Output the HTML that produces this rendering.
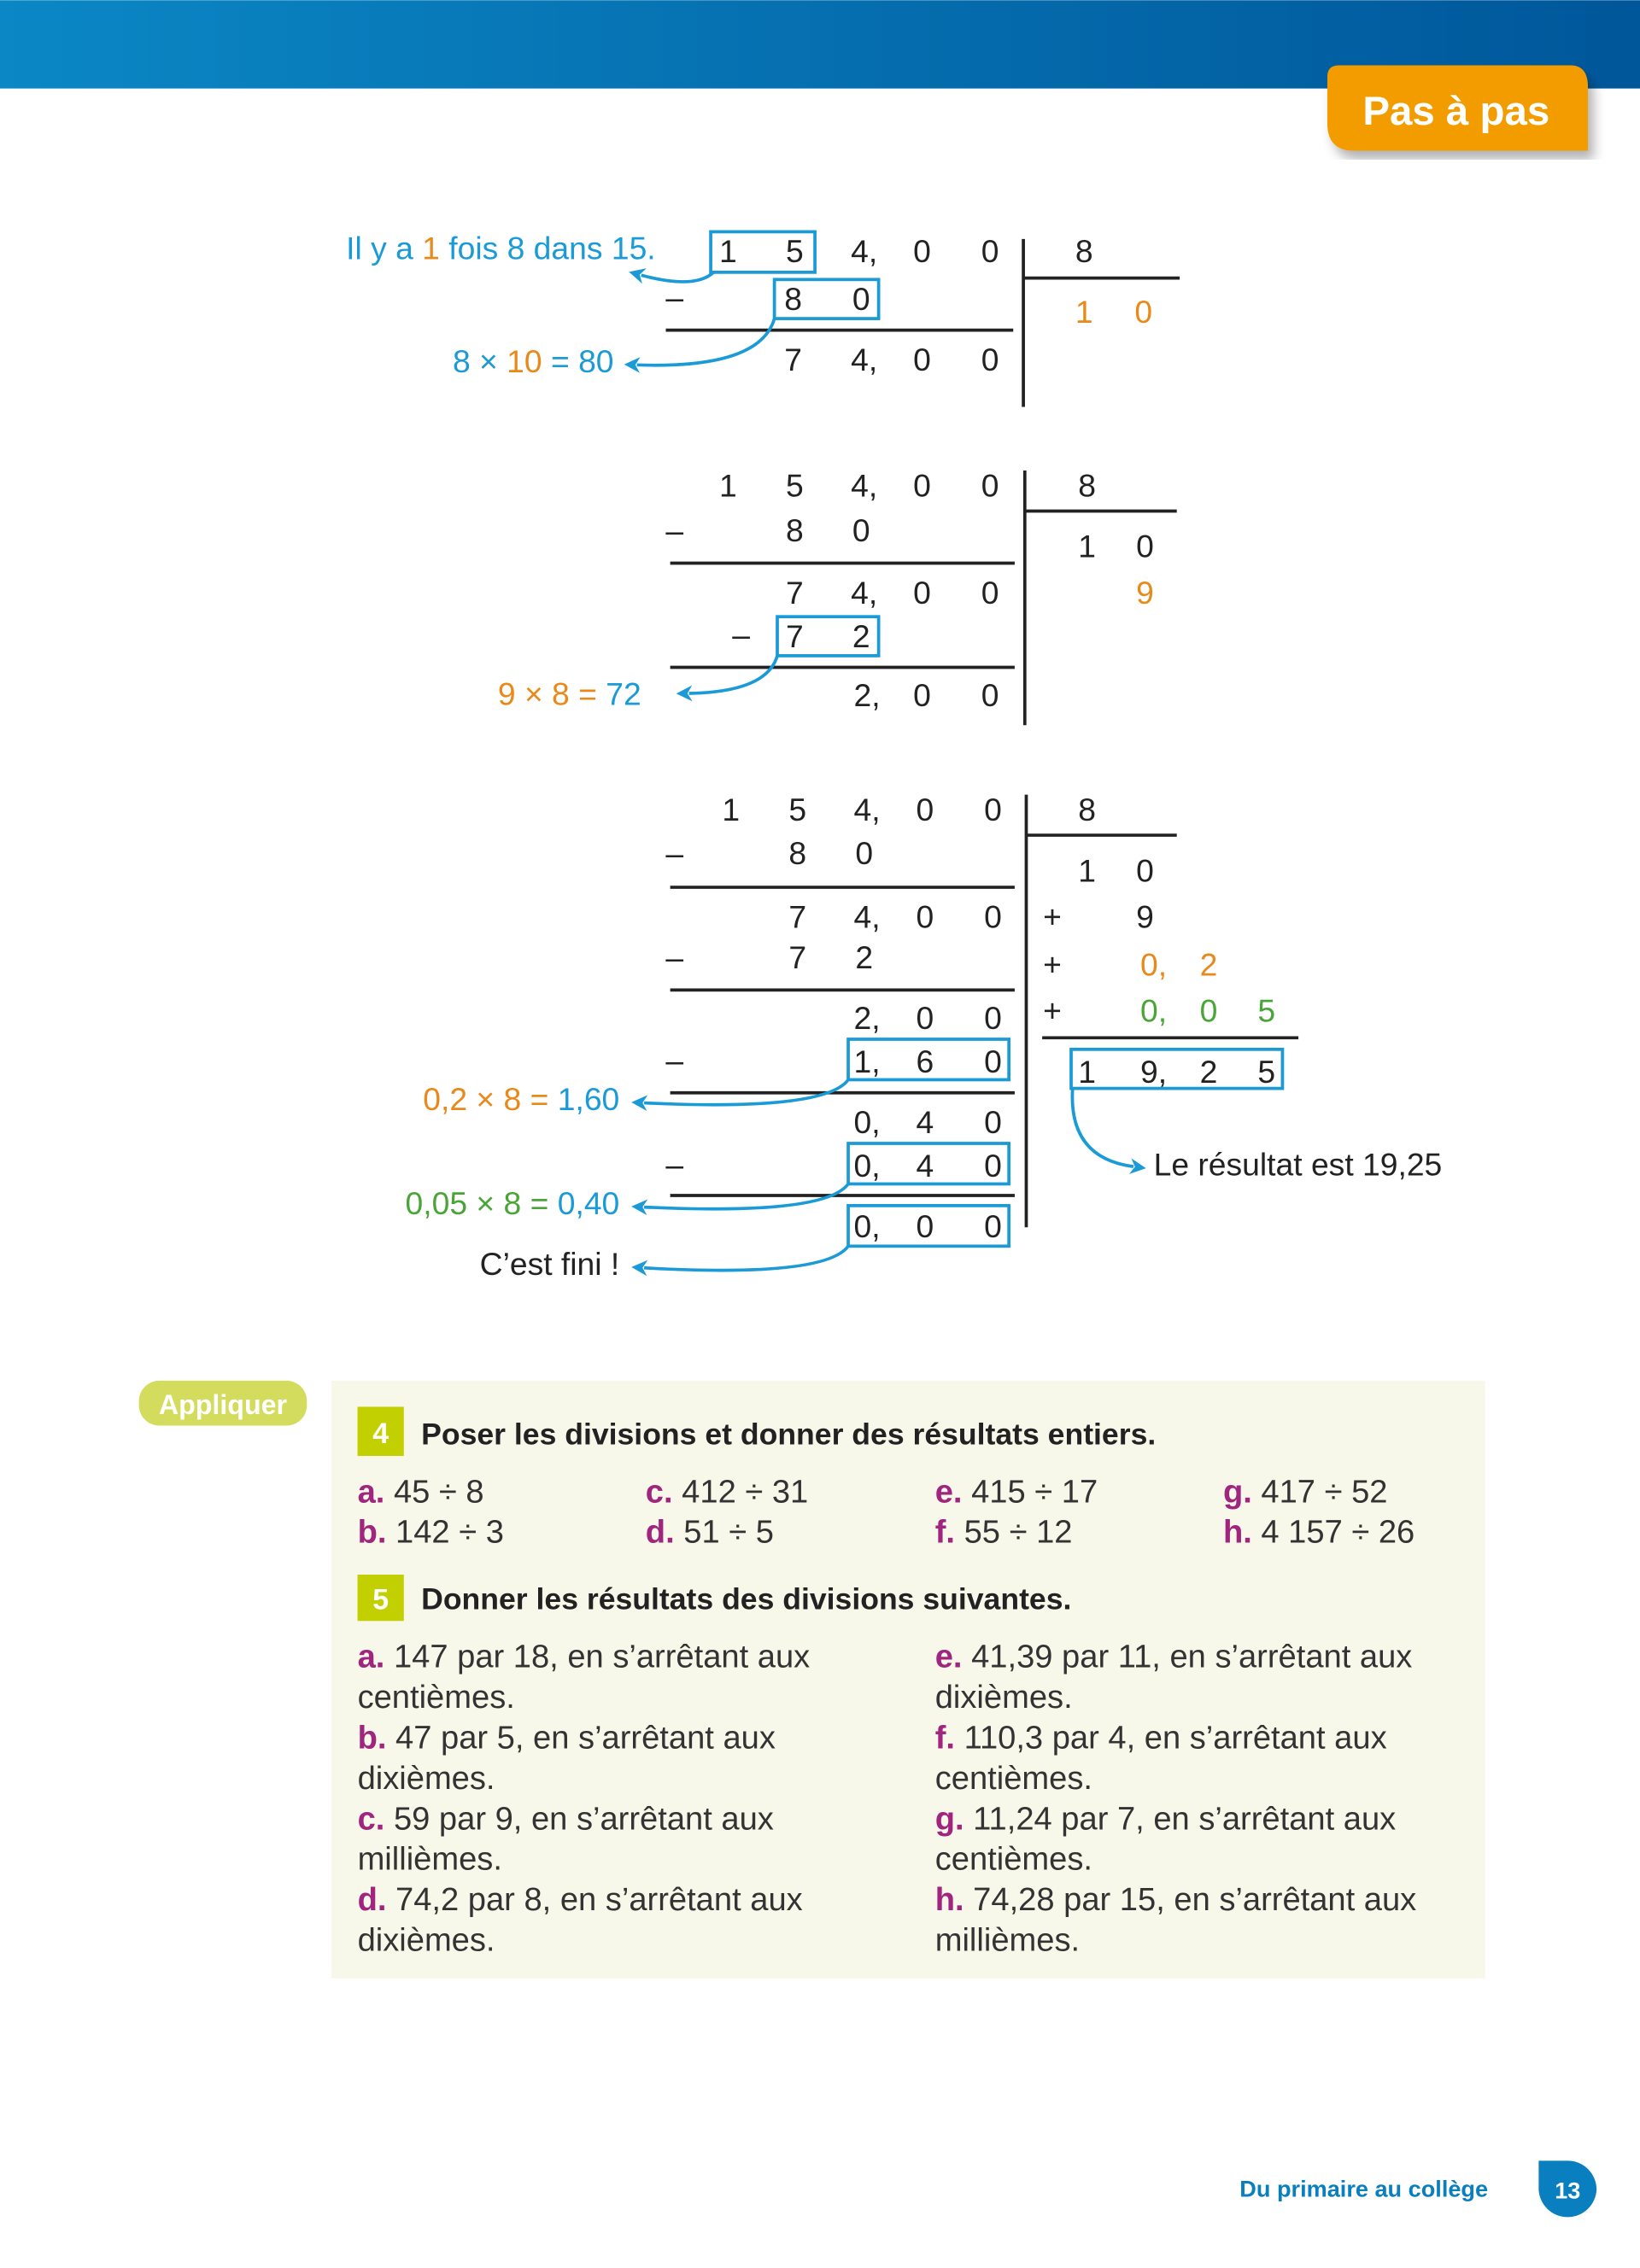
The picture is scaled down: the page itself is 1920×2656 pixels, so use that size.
<!DOCTYPE html>
<html><head><meta charset="utf-8"><style>
html,body{margin:0;padding:0;background:#fff}
svg{display:block}
text{font-family:"Liberation Sans Narrow","Liberation Sans",sans-serif}
.d{font-size:22px;fill:#222;text-anchor:middle}
.o{fill:#e8891a}.g{fill:#4aa538}.b{fill:#1a9ad6}
.lab{font-size:22px;text-anchor:end}
.bx{fill:none;stroke:#1a9ad6;stroke-width:2.2}
.ln{stroke:#222;stroke-width:2.2}
.ar{fill:none;stroke:#1a9ad6;stroke-width:2.2}
.it{font-size:22.5px;fill:#333}
.p{fill:#a0257f;font-weight:bold}
</style></head><body>
<svg width="1920" height="2656" viewBox="0 0 1133 1567" xmlns="http://www.w3.org/2000/svg">
<defs>
<linearGradient id="hg" x1="0" x2="1"><stop offset="0" stop-color="#0b87c5"/><stop offset="1" stop-color="#00579a"/></linearGradient>
<marker id="ah" viewBox="0 0 10 10" refX="2" refY="5" markerWidth="5" markerHeight="5" orient="auto-start-reverse"><path d="M0,0 L10,5 L0,10 L3,5z" fill="#1a9ad6"/></marker>
<filter id="sh"><feDropShadow dx="4" dy="6" stdDeviation="4" flood-opacity="0.3"/></filter>
</defs>
<rect x="0" y="0" width="1133" height="61" fill="url(#hg)"/>
<path d="M925,45 H1085 Q1097,45 1097,60 V104 H935 Q917,104 917,85 V53 Q917,45 925,45z" fill="#f39c00" filter="url(#sh)"/>
<text x="1006" y="86" style="font-size:28px;font-weight:bold;fill:#fff;text-anchor:middle">Pas à pas</text>

<g>
<text class="d" x="503" y="181">1</text><text class="d" x="549" y="181">5</text><text class="d" x="597" y="181">4,</text><text class="d" x="637" y="181">0</text><text class="d" x="684" y="181">0</text>
<text class="d" x="749" y="181">8</text>
<line class="ln" x1="707" y1="165" x2="707" y2="281"/><line class="ln" x1="707" y1="192" x2="815" y2="192"/>
<rect class="bx" x="491" y="160" width="72" height="28"/>
<text class="d" x="466" y="213">–</text>
<rect class="bx" x="535" y="193" width="72" height="27"/>
<text class="d" x="548" y="214">8</text><text class="d" x="595" y="214">0</text>
<line class="ln" x1="460" y1="228" x2="700" y2="228"/>
<text class="d" x="548" y="256">7</text><text class="d" x="597" y="256">4,</text><text class="d" x="637" y="256">0</text><text class="d" x="684" y="256">0</text>
<text class="d o" x="749" y="223">1</text><text class="d o" x="790" y="223">0</text>
<text class="lab b" x="453" y="179">Il y a <tspan class="o">1</tspan> fois 8 dans 15.</text>
<path class="ar" d="M493,188 Q480,200 443,190" marker-end="url(#ah)"/>
<text class="lab b" x="424" y="257">8 × <tspan class="o">10</tspan> = 80</text>
<path class="ar" d="M535,220 Q525,255 440,252" marker-end="url(#ah)"/>
</g>

<g>
<text class="d" x="503" y="343">1</text><text class="d" x="549" y="343">5</text><text class="d" x="597" y="343">4,</text><text class="d" x="637" y="343">0</text><text class="d" x="684" y="343">0</text>
<text class="d" x="751" y="343">8</text>
<line class="ln" x1="708" y1="325" x2="708" y2="501"/><line class="ln" x1="708" y1="353" x2="813" y2="353"/>
<text class="d" x="466" y="374">–</text><text class="d" x="549" y="374">8</text><text class="d" x="595" y="374">0</text>
<line class="ln" x1="463" y1="389" x2="701" y2="389"/>
<text class="d" x="751" y="385">1</text><text class="d" x="791" y="385">0</text>
<text class="d" x="549" y="417">7</text><text class="d" x="597" y="417">4,</text><text class="d" x="637" y="417">0</text><text class="d" x="684" y="417">0</text>
<text class="d o" x="791" y="417">9</text>
<text class="d" x="512" y="446">–</text>
<rect class="bx" x="537" y="426" width="70" height="27"/>
<text class="d" x="549" y="447">7</text><text class="d" x="595" y="447">2</text>
<line class="ln" x1="463" y1="461" x2="701" y2="461"/>
<text class="d" x="599" y="488">2,</text><text class="d" x="637" y="488">0</text><text class="d" x="684" y="488">0</text>
<text class="lab o" x="443" y="487">9 × 8 = <tspan class="b">72</tspan></text>
<path class="ar" d="M537,453 Q530,478 476,479" marker-end="url(#ah)"/>
</g>

<g>
<text class="d" x="505" y="567">1</text><text class="d" x="551" y="567">5</text><text class="d" x="599" y="567">4,</text><text class="d" x="639" y="567">0</text><text class="d" x="686" y="567">0</text>
<text class="d" x="751" y="567">8</text>
<line class="ln" x1="709" y1="549" x2="709" y2="848"/><line class="ln" x1="709" y1="577" x2="813" y2="577"/>
<text class="d" x="466" y="597">–</text><text class="d" x="551" y="597">8</text><text class="d" x="597" y="597">0</text>
<line class="ln" x1="463" y1="613" x2="701" y2="613"/>
<text class="d" x="751" y="609">1</text><text class="d" x="791" y="609">0</text>
<text class="d" x="551" y="641">7</text><text class="d" x="599" y="641">4,</text><text class="d" x="639" y="641">0</text><text class="d" x="686" y="641">0</text>
<text class="d" x="727" y="641">+</text><text class="d" x="791" y="641">9</text>
<text class="d" x="466" y="669">–</text><text class="d" x="551" y="669">7</text><text class="d" x="597" y="669">2</text>
<text class="d" x="727" y="674">+</text><text class="d o" x="797" y="674">0,</text><text class="d o" x="835" y="674">2</text>
<line class="ln" x1="463" y1="684" x2="701" y2="684"/>
<text class="d" x="599" y="711">2,</text><text class="d" x="639" y="711">0</text><text class="d" x="686" y="711">0</text>
<text class="d" x="727" y="706">+</text><text class="d g" x="797" y="706">0,</text><text class="d g" x="835" y="706">0</text><text class="d g" x="875" y="706">5</text>
<line class="ln" x1="720" y1="717" x2="897" y2="717"/>
<rect class="bx" x="740" y="725" width="146" height="27"/>
<text class="d" x="751" y="748">1</text><text class="d" x="797" y="748">9,</text><text class="d" x="835" y="748">2</text><text class="d" x="875" y="748">5</text>
<text class="d" x="466" y="740">–</text>
<rect class="bx" x="586" y="718" width="111" height="28"/>
<text class="d" x="599" y="741">1,</text><text class="d" x="639" y="741">6</text><text class="d" x="686" y="741">0</text>
<line class="ln" x1="463" y1="755" x2="701" y2="755"/>
<text class="d" x="599" y="783">0,</text><text class="d" x="639" y="783">4</text><text class="d" x="686" y="783">0</text>
<text class="d" x="466" y="812">–</text>
<rect class="bx" x="586" y="790" width="111" height="28"/>
<text class="d" x="599" y="813">0,</text><text class="d" x="639" y="813">4</text><text class="d" x="686" y="813">0</text>
<line class="ln" x1="463" y1="826" x2="701" y2="826"/>
<rect class="bx" x="586" y="833" width="111" height="28"/>
<text class="d" x="599" y="855">0,</text><text class="d" x="639" y="855">0</text><text class="d" x="686" y="855">0</text>
<text class="lab o" x="428" y="767">0,2 × 8 = <tspan class="b">1,60</tspan></text>
<path class="ar" d="M586,746 Q570,768 445,762" marker-end="url(#ah)"/>
<text class="lab g" x="428" y="839">0,05 × 8 = <tspan class="b">0,40</tspan></text>
<path class="ar" d="M586,818 Q570,840 445,834" marker-end="url(#ah)"/>
<text class="lab" x="428" y="881" style="fill:#222">C’est fini !</text>
<path class="ar" d="M586,861 Q570,883 445,876" marker-end="url(#ah)"/>
<path class="ar" d="M741,752 Q738,800 783,806" marker-end="url(#ah)"/>
<text x="797" y="812" style="font-size:22px;fill:#222">Le résultat est 19,25</text>
</g>

<rect x="96" y="954" width="116" height="31" rx="14" fill="#d3dc5c"/>
<text x="154" y="977" style="font-size:19px;font-weight:bold;fill:#fff;text-anchor:middle">Appliquer</text>
<rect x="229" y="954" width="797" height="413" fill="#f8f8ea"/>
<rect x="247" y="972" width="32" height="34" fill="#c2cf00"/>
<text x="263" y="997" style="font-size:20px;font-weight:bold;fill:#fff;text-anchor:middle">4</text>
<text x="291" y="998" style="font-size:21px;font-weight:bold;fill:#222">Poser les divisions et donner des résultats entiers.</text>
<text class="it" x="247" y="1038"><tspan class="p">a.</tspan> 45 ÷ 8</text>
<text class="it" x="446" y="1038"><tspan class="p">c.</tspan> 412 ÷ 31</text>
<text class="it" x="646" y="1038"><tspan class="p">e.</tspan> 415 ÷ 17</text>
<text class="it" x="845" y="1038"><tspan class="p">g.</tspan> 417 ÷ 52</text>
<text class="it" x="247" y="1066"><tspan class="p">b.</tspan> 142 ÷ 3</text>
<text class="it" x="446" y="1066"><tspan class="p">d.</tspan> 51 ÷ 5</text>
<text class="it" x="646" y="1066"><tspan class="p">f.</tspan>  55 ÷ 12</text>
<text class="it" x="845" y="1066"><tspan class="p">h.</tspan> 4 157 ÷ 26</text>
<rect x="247" y="1088" width="32" height="32" fill="#c2cf00"/>
<text x="263" y="1112" style="font-size:20px;font-weight:bold;fill:#fff;text-anchor:middle">5</text>
<text x="291" y="1112" style="font-size:21px;font-weight:bold;fill:#222">Donner les résultats des divisions suivantes.</text>
<text class="it" x="247" y="1152"><tspan class="p">a.</tspan> 147 par 18, en s’arrêtant aux</text>
<text class="it" x="247" y="1180">centièmes.</text>
<text class="it" x="247" y="1208"><tspan class="p">b.</tspan> 47 par 5, en s’arrêtant aux</text>
<text class="it" x="247" y="1236">dixièmes.</text>
<text class="it" x="247" y="1264"><tspan class="p">c.</tspan>  59 par 9, en s’arrêtant aux</text>
<text class="it" x="247" y="1292">millièmes.</text>
<text class="it" x="247" y="1320"><tspan class="p">d.</tspan> 74,2 par 8, en s’arrêtant aux</text>
<text class="it" x="247" y="1348">dixièmes.</text>
<text class="it" x="646" y="1152"><tspan class="p">e.</tspan> 41,39 par 11, en s’arrêtant aux</text>
<text class="it" x="646" y="1180">dixièmes.</text>
<text class="it" x="646" y="1208"><tspan class="p">f.</tspan>  110,3 par 4, en s’arrêtant aux</text>
<text class="it" x="646" y="1236">centièmes.</text>
<text class="it" x="646" y="1264"><tspan class="p">g.</tspan> 11,24 par 7, en s’arrêtant aux</text>
<text class="it" x="646" y="1292">centièmes.</text>
<text class="it" x="646" y="1320"><tspan class="p">h.</tspan> 74,28 par 15, en s’arrêtant aux</text>
<text class="it" x="646" y="1348">millièmes.</text>

<text x="1028" y="1518" style="font-size:16px;font-weight:bold;fill:#0a7fbf;text-anchor:end">Du primaire au collège</text>
<path d="M1063,1493 H1083 A20,20 0 0 1 1103,1513 A20,20 0 0 1 1083,1532 A20,20 0 0 1 1063,1513z" fill="#0a7fbf"/>
<text x="1083" y="1519" style="font-size:16px;font-weight:bold;fill:#fff;text-anchor:middle">13</text>
</svg>
</body></html>
